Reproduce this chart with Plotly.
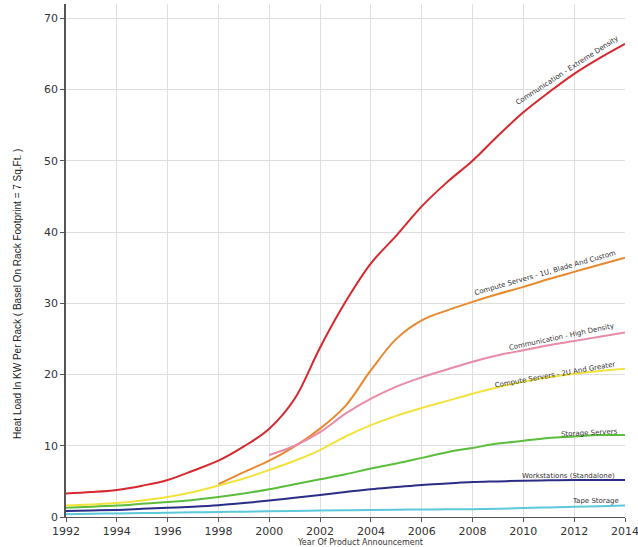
import plotly.graph_objects as go

years = list(range(1992, 2015))

comm_extreme = [3.3, 3.5, 3.8, 4.4, 5.2, 6.5, 7.9, 9.9, 12.4, 16.6, 23.8, 30.2, 35.6,
                39.5, 43.6, 47.0, 50.0, 53.5, 56.8, 59.6, 62.2, 64.4, 66.4]
years_1u = list(range(1998, 2015))
compute_1u = [4.6, 6.3, 7.9, 9.9, 12.4, 15.6, 20.6, 25.0, 27.6, 29.0, 30.2, 31.3, 32.3,
              33.4, 34.4, 35.4, 36.4]
years_hd = list(range(2000, 2015))
comm_high = [8.7, 10.0, 11.9, 14.5, 16.6, 18.3, 19.6, 20.7, 21.8, 22.7, 23.4, 24.1, 24.7,
             25.3, 25.9]
compute_2u = [1.6, 1.75, 1.95, 2.3, 2.8, 3.5, 4.4, 5.4, 6.6, 7.9, 9.4, 11.3, 12.9, 14.2,
              15.3, 16.3, 17.3, 18.2, 19.0, 19.6, 20.1, 20.5, 20.8]
storage = [1.3, 1.45, 1.6, 1.85, 2.1, 2.4, 2.8, 3.3, 3.9, 4.6, 5.3, 6.0, 6.8, 7.5, 8.3,
           9.1, 9.7, 10.3, 10.7, 11.1, 11.3, 11.5, 11.5]
workstations = [0.85, 0.92, 1.0, 1.15, 1.3, 1.45, 1.65, 1.95, 2.3, 2.7, 3.1, 3.5, 3.9,
                4.2, 4.5, 4.7, 4.9, 5.0, 5.1, 5.15, 5.2, 5.2, 5.2]
tape = [0.4, 0.45, 0.5, 0.55, 0.6, 0.65, 0.7, 0.75, 0.8, 0.85, 0.9, 0.95, 1.0, 1.03,
        1.05, 1.08, 1.1, 1.17, 1.25, 1.35, 1.45, 1.52, 1.6]

x_ticks = list(range(1992, 2015, 2))
y_ticks = [0, 10, 20, 30, 40, 50, 60, 70]

series = [
    ("Tape Storage", years, tape, "#5cc8d9"),
    ("Workstations (Standalone)", years, workstations, "#2a2d86"),
    ("Storage Servers", years, storage, "#5bbd3c"),
    ("Compute Servers - 1U, Blade And Custom", years_1u, compute_1u, "#e8892f"),
    ("Compute Servers - 2U And Greater", years, compute_2u, "#f2e23c"),
    ("Communication - High Density", years_hd, comm_high, "#e98aa6"),
    ("Communication - Extreme Density", years, comm_extreme, "#d6282d"),
]

fig = go.Figure()
for name, xs, ys, col in series:
    fig.add_trace(go.Scatter(x=xs, y=ys, mode="lines", name=name,
                             line=dict(color=col, width=2, shape="spline"),
                             showlegend=False, hoverinfo="x+y+name"))

labels = [
    ("Communication - Extreme Density", 2011.70, 62.6, -33),
    ("Compute Servers - 1U, Blade And Custom", 2010.87, 34.2, -16),
    ("Communication - High Density", 2011.5, 25.2, -12),
    ("Compute Servers - 2U And Greater", 2011.23, 19.9, -10),
    ("Storage Servers", 2012.6, 11.8, -3),
    ("Workstations (Standalone)", 2011.78, 5.75, 0),
    ("Tape Storage", 2012.84, 2.3, 0),
]
for txt, lx, ly, ang in labels:
    fig.add_annotation(x=lx, y=ly, text=txt, showarrow=False, textangle=ang,
                       xanchor="center", yanchor="middle",
                       font=dict(family="DejaVu Sans", size=7, color="#333333"))

# axis titles placed as annotations (paper coords)
fig.add_annotation(x=(360 - 66) / (625 - 66), y=-0.05, xref="paper", yref="paper",
                   text="Year Of Product Announcement", showarrow=False,
                   xanchor="center", yanchor="middle",
                   font=dict(family="DejaVu Sans", size=8, color="#333333"))
fig.add_annotation(x=(17 - 66) / (625 - 66), y=(517 - 294) / 513, xref="paper", yref="paper",
                   text="Heat Load In KW Per Rack ( Basel On Rack Footprint = 7 Sq.Ft. )",
                   showarrow=False, textangle=-90, xanchor="center", yanchor="middle",
                   font=dict(family="Liberation Sans Narrow, Liberation Sans", size=10,
                             color="#222222"))

fig.update_layout(
    width=638, height=547,
    margin=dict(l=66, r=13, t=4, b=30, autoexpand=False),
    paper_bgcolor="white", plot_bgcolor="white",
    font=dict(family="DejaVu Sans", color="#333333"),
    xaxis=dict(range=[1992, 2014], tickvals=x_ticks, ticktext=[str(v) for v in x_ticks],
               showgrid=True, gridcolor="#dedede", gridwidth=1,
               showline=True, linecolor="#555555", linewidth=1,
               ticks="outside", ticklen=4, tickcolor="#555555",
               tickfont=dict(family="DejaVu Sans", size=11, color="#333333"),
               ticklabeloverflow="allow",
               zeroline=False, automargin=False),
    yaxis=dict(range=[0, 72], tickvals=y_ticks,
               showgrid=True, gridcolor="#dedede", gridwidth=1,
               showline=True, linecolor="#555555", linewidth=1.5,
               ticks="outside", ticklen=4, tickcolor="#555555",
               tickfont=dict(family="DejaVu Sans", size=11, color="#333333"),
               zeroline=False, automargin=False),
)

fig.write_html("out.html", config={"displayModeBar": False},
               post_script="document.body.style.margin='0';")
